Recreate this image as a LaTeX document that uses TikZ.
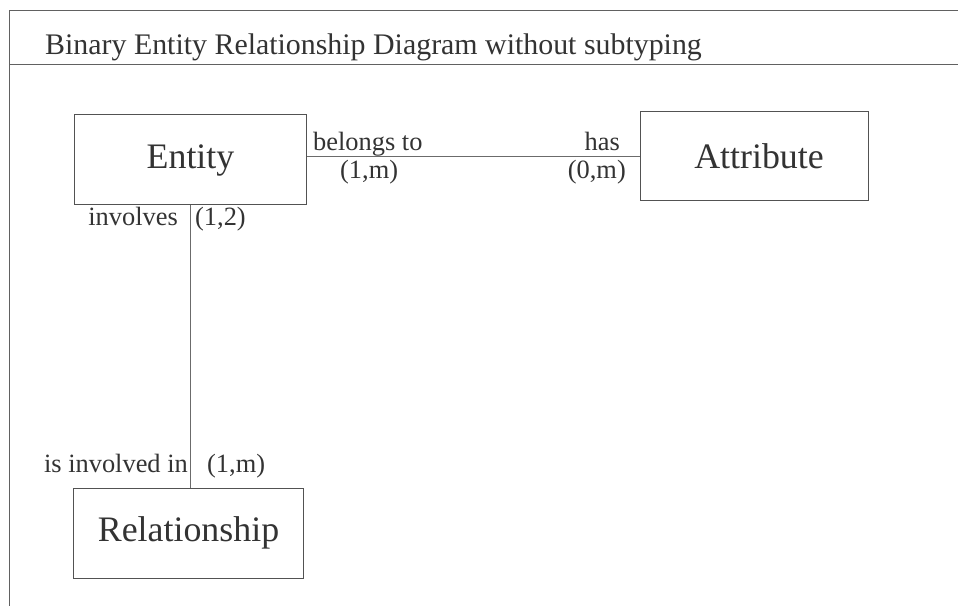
\documentclass[tikz,border=0pt]{standalone}
\usepackage{fontspec}
\setmainfont{Liberation Serif}
\begin{document}
\begin{tikzpicture}[x=1bp,y=-1bp,
  frameline/.style={draw=black!62, line width=1bp},
  entitybox/.style={draw=black!68, line width=1bp, fill=white, inner sep=0pt,
    text=black!80, font=\fontsize{36}{40}\selectfont},
  rolelabel/.style={inner sep=0pt, text=black!80, font=\fontsize{26.5}{30}\selectfont},
  link/.style={draw=black!58, line width=1bp}]
  \useasboundingbox (0,0) rectangle (958,606);
  % page frame and title strip
  \coordinate (ftl) at (9.5,10.5);
  \coordinate (fbl) at (9.5,606);
  \coordinate (ftr) at (958,10.5);
  \coordinate (sepl) at (9.5,65);
  \coordinate (sepr) at (958,65);
  \draw[frameline] (fbl) -- (ftl) -- (ftr);
  \draw[frameline] (sepl) -- (sepr);
  \node[anchor=base west, inner sep=0pt, text=black!80,
        font=\fontsize{30}{34}\selectfont] (title) at (45,55)
        {Binary Entity Relationship Diagram without subtyping};
  % entity types
  \node[entitybox, minimum width=231bp, minimum height=90bp] (entity) at (190.5,160) {Entity};
  \node[entitybox, minimum width=228bp, minimum height=89bp] (attribute) at (754.5,156.5) {\hspace{9bp}Attribute};
  \node[entitybox, minimum width=229bp, minimum height=90bp] (relationship) at (188.5,533) {Relationship};
  % connectors
  \coordinate (ea) at (attribute.west -| entity.east);
  \draw[link] (ea) -- (attribute.west);
  \coordinate (er) at (entity.south |- relationship.north);
  \draw[link] (entity.south) -- (er);
  % role names and cardinalities
  \node[rolelabel, anchor=base west] (belongs) at (313,151) {belongs to};
  \node[rolelabel, anchor=base west] (c1m) at (340,179) {(1,m)};
  \node[rolelabel, anchor=base east] (has) at (620,151) {has};
  \node[rolelabel, anchor=base east] (c0m) at (626,179) {(0,m)};
  \node[rolelabel, anchor=base east] (involves) at (178,226) {involves};
  \node[rolelabel, anchor=base west] (c12) at (195,226) {(1,2)};
  \node[rolelabel, anchor=base east] (involvedin) at (188,472) {is involved in};
  \node[rolelabel, anchor=base west] (c1mb) at (207,472) {(1,m)};
\end{tikzpicture}
\end{document}
